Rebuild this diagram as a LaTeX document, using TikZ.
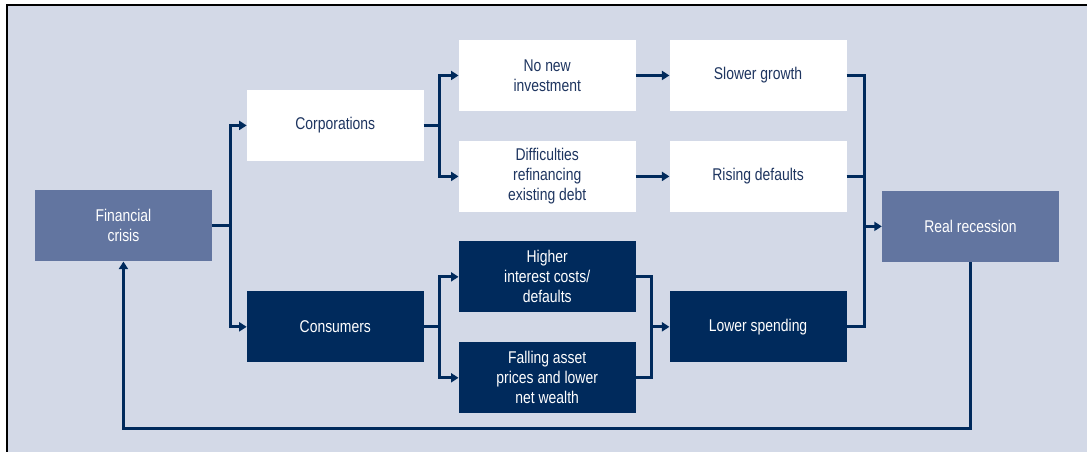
\documentclass[tikz,border=0pt]{standalone}
\usepackage{fontspec}
\setmainfont{Liberation Sans}[FakeStretch=0.82]
\usetikzlibrary{arrows.meta}
\definecolor{bgblue}{HTML}{D3D9E7}
\definecolor{navy}{HTML}{002A5C}
\definecolor{midblue}{HTML}{6275A0}
\definecolor{inktext}{HTML}{1E3560}
\tikzset{
  box/.style={rectangle, minimum width=177pt, minimum height=71pt, inner sep=0pt,
    align=center, font=\fontsize{17}{20}\selectfont},
  lightbox/.style={box, fill=white, text=inktext},
  darkbox/.style={box, fill=navy, text=white},
  keybox/.style={box, fill=midblue, text=white},
  link/.style={draw=navy, line width=3pt},
  arr/.style={link, -{Triangle[length=7.5pt,width=9pt]}}
}
\begin{document}
\begin{tikzpicture}[x=1pt,y=-1pt]
  % canvas and frame
  \fill[white] (0,0) rectangle (1088,452);
  \fill[bgblue] (7,5) rectangle (1088,452);
  \draw[black, line width=1.2pt] (7,452) -- (7,5) -- (1088,5);
  \useasboundingbox (0,0) rectangle (1088,452);

  % boxes
  \node[keybox]   (fc)   at (123.5,226) {Financial\\crisis};
  \node[lightbox] (corp) at (335.5,125.5) {Corporations};
  \node[darkbox]  (cons) at (335.5,327) {Consumers};
  \node[lightbox] (inv)  at (547.5,75.5) {No new\\investment};
  \node[lightbox] (refi) at (547.5,176.5) {Difficulties\\refinancing\\existing debt};
  \node[darkbox]  (cost) at (547.5,277) {Higher\\interest costs/\\defaults};
  \node[darkbox]  (asset) at (547.5,378) {Falling asset\\prices and lower\\net wealth};
  \node[lightbox] (slow) at (758.5,75.5) {Slower growth};
  \node[lightbox] (dflt) at (758.5,176.5) {Rising defaults};
  \node[darkbox]  (spend) at (758.5,327) {Lower spending};
  \node[keybox]   (rec)  at (971,226.5) {Real recession};

  % junction points
  \coordinate (jl) at (652,327);
  \coordinate (jr) at (865,226.5);

  % financial crisis splits into corporations and consumers
  \draw[arr] (fc.east) -- ++(18,0) |- (corp.west);
  \draw[arr] (fc.east) -- ++(18,0) |- (cons.west);

  % corporations
  \draw[arr] (corp.east) -- ++(16,0) |- (inv.west);
  \draw[arr] (corp.east) -- ++(16,0) |- (refi.west);
  \draw[arr] (inv.east) -- (slow.west);
  \draw[arr] (refi.east) -- (dflt.west);

  % consumers
  \draw[arr] (cons.east) -- ++(16,0) |- (cost.west);
  \draw[arr] (cons.east) -- ++(16,0) |- (asset.west);
  \draw[link] (cost.east) -| (jl);
  \draw[link] (asset.east) -| (jl);
  \draw[arr] (jl) -- (spend.west);

  % everything feeds the recession
  \draw[link] (slow.east) -| (jr);
  \draw[link] (dflt.east) -| (jr);
  \draw[link] (spend.east) -| (jr);
  \draw[arr] (jr) -- (rec.west);

  % feedback loop
  \draw[arr] (rec.south) -- ++(0,167) -| (fc.south);
\end{tikzpicture}
\end{document}
